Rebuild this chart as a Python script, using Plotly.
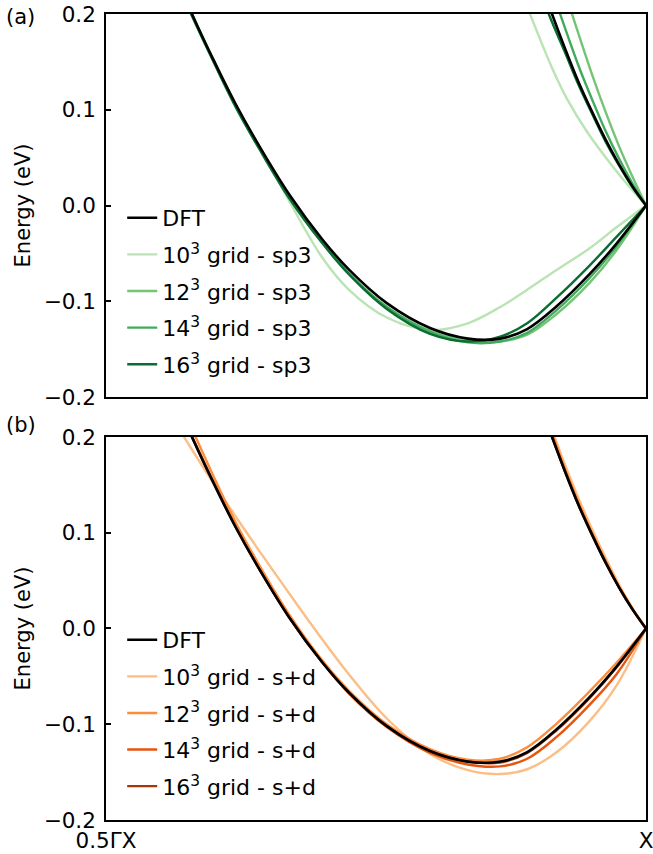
import plotly.graph_objects as go

# k-path coordinate: 0 = 0.5ΓX, 1 = X
K_LOW = [0.14, 0.16, 0.20, 0.24, 0.285, 0.34, 0.40, 0.45, 0.52, 0.60,
         0.67, 0.73, 0.78, 0.835, 0.895, 0.945, 1.0]
K_LOW_B10 = [0.13, 0.14, 0.16, 0.20, 0.24, 0.285, 0.34, 0.40, 0.45, 0.52,
             0.60, 0.67, 0.73, 0.78, 0.835, 0.895, 0.945, 1.0]

# DFT reference bands (eV)
DFT_LOW = [0.225, 0.199, 0.151, 0.106, 0.061, 0.011, -0.035, -0.067, -0.102,
           -0.128, -0.139, -0.139, -0.129, -0.105, -0.072, -0.040, 0.0]
K_UP_DFT = [0.81, 0.826, 0.85, 0.875, 0.90, 0.925, 0.95, 0.975, 1.0]
DFT_UP = [0.225, 0.200, 0.164, 0.129, 0.098, 0.069, 0.043, 0.020, 0.0]

# (a) sp3 Wannier interpolation on different k grids
SP3_10_LOW = [0.225, 0.199, 0.151, 0.106, 0.061, 0.004, -0.054, -0.088, -0.117,
              -0.130, -0.123, -0.106, -0.088, -0.067, -0.045, -0.023, 0.0]
SP3_10_KUP = [0.77, 0.785, 0.825, 0.855, 0.892, 0.938, 0.97, 1.0]
SP3_10_UP = [0.220, 0.200, 0.145, 0.110, 0.076, 0.041, 0.019, 0.0]

SP3_12_LOW = [0.225, 0.199, 0.150, 0.105, 0.060, 0.009, -0.038, -0.071, -0.106,
              -0.131, -0.141, -0.142, -0.135, -0.113, -0.081, -0.047, 0.0]
SP3_12_KUP = [0.85, 0.863, 0.90, 0.925, 0.95, 0.975, 1.0]
SP3_12_UP = [0.223, 0.200, 0.137, 0.098, 0.062, 0.030, 0.0]

SP3_14_LOW = [0.225, 0.198, 0.150, 0.104, 0.059, 0.008, -0.038, -0.071, -0.106,
              -0.132, -0.143, -0.142, -0.133, -0.109, -0.076, -0.043, 0.0]
SP3_14_KUP = [0.826, 0.841, 0.875, 0.90, 0.925, 0.95, 0.975, 1.0]
SP3_14_UP = [0.225, 0.200, 0.146, 0.111, 0.078, 0.049, 0.023, 0.0]

SP3_16_LOW = [0.223, 0.197, 0.149, 0.103, 0.058, 0.007, -0.039, -0.072, -0.108,
              -0.134, -0.142, -0.137, -0.123, -0.096, -0.063, -0.033, 0.0]
SP3_16_KUP = [0.805, 0.82, 0.85, 0.875, 0.90, 0.925, 0.95, 0.975, 1.0]
SP3_16_UP = [0.225, 0.200, 0.160, 0.126, 0.096, 0.067, 0.042, 0.019, 0.0]

# (b) s+d Wannier interpolation on different k grids
SD_10_LOW = [0.213, 0.204, 0.186, 0.151, 0.117, 0.080, 0.036, -0.011, -0.048,
             -0.094, -0.131, -0.148, -0.152, -0.147, -0.129, -0.097, -0.060, 0.0]
SD_10_UP = [0.229, 0.207, 0.171, 0.136, 0.104, 0.074, 0.046, 0.021, 0.0]

SD_12_LOW = [0.236, 0.208, 0.158, 0.111, 0.065, 0.014, -0.033, -0.065, -0.100,
             -0.126, -0.137, -0.136, -0.124, -0.099, -0.066, -0.036, 0.0]
SD_12_UP = [0.226, 0.204, 0.167, 0.132, 0.100, 0.071, 0.044, 0.021, 0.0]

SD_14_LOW = [0.226, 0.200, 0.152, 0.106, 0.061, 0.011, -0.035, -0.068, -0.103,
             -0.130, -0.142, -0.144, -0.136, -0.113, -0.080, -0.048, 0.0]
SD_14_UP = [0.224, 0.201, 0.165, 0.130, 0.099, 0.070, 0.043, 0.020, 0.0]

SD_16_LOW = [0.225, 0.199, 0.151, 0.106, 0.061, 0.011, -0.035, -0.067, -0.102,
             -0.128, -0.139, -0.140, -0.130, -0.106, -0.073, -0.041, 0.0]
SD_16_UP = [0.222, 0.200, 0.164, 0.129, 0.098, 0.069, 0.043, 0.020, 0.0]

GREENS = ["#bae4b3", "#74c476", "#41ab5d", "#0a6d31"]
ORANGES = ["#fdbe85", "#fd8d3c", "#e6550d", "#a63603"]

FONT = "DejaVu Sans"

fig = go.Figure()


def band(k_low, e_low, k_up, e_up, name, color, width, axes, legend, rank):
    xa, ya = axes
    fig.add_trace(go.Scatter(
        x=list(k_low) + [None] + list(k_up),
        y=list(e_low) + [None] + list(e_up),
        mode="lines", name=name,
        line=dict(color=color, width=width, shape="spline", smoothing=1.0),
        xaxis=xa, yaxis=ya, legend=legend, legendgroup=name + legend,
        legendrank=rank, connectgaps=False,
    ))


sp3 = [
    (K_LOW, SP3_10_LOW, SP3_10_KUP, SP3_10_UP, "10<sup>3</sup> grid - sp3"),
    (K_LOW, SP3_12_LOW, SP3_12_KUP, SP3_12_UP, "12<sup>3</sup> grid - sp3"),
    (K_LOW, SP3_14_LOW, SP3_14_KUP, SP3_14_UP, "14<sup>3</sup> grid - sp3"),
    (K_LOW, SP3_16_LOW, SP3_16_KUP, SP3_16_UP, "16<sup>3</sup> grid - sp3"),
]
for i, (kl, el, ku, eu, nm) in enumerate(sp3):
    band(kl, el, ku, eu, nm, GREENS[i], 2.4, ("x", "y"), "legend", 2 + i)
band(K_LOW, DFT_LOW, K_UP_DFT, DFT_UP, "DFT", "black", 2.6, ("x", "y"), "legend", 1)

sd = [
    (K_LOW_B10, SD_10_LOW, K_UP_DFT, SD_10_UP, "10<sup>3</sup> grid - s+d"),
    (K_LOW, SD_12_LOW, K_UP_DFT, SD_12_UP, "12<sup>3</sup> grid - s+d"),
    (K_LOW, SD_14_LOW, K_UP_DFT, SD_14_UP, "14<sup>3</sup> grid - s+d"),
    (K_LOW, SD_16_LOW, K_UP_DFT, SD_16_UP, "16<sup>3</sup> grid - s+d"),
]
for i, (kl, el, ku, eu, nm) in enumerate(sd):
    band(kl, el, ku, eu, nm, ORANGES[i], 2.4, ("x2", "y2"), "legend2", 2 + i)
band(K_LOW, DFT_LOW, K_UP_DFT, DFT_UP, "DFT", "black", 2.6, ("x2", "y2"), "legend2", 1)

Y_TICKS = [-0.2, -0.1, 0.0, 0.1, 0.2]
Y_TEXT = ["\u22120.2", "\u22120.1", "0.0", "0.1", "0.2"]
K_TICKS = [0.0, 1.0]
K_TEXT = ["0.5\u0393X", "X"]

TICK_FONT = dict(family=FONT, size=21.5, color="black")

axis_common = dict(showline=True, mirror=True, linecolor="black", linewidth=1.6,
                   showgrid=False, zeroline=False, automargin=False)
yaxis_common = dict(axis_common, range=[-0.2, 0.2], tickvals=Y_TICKS, ticktext=Y_TEXT,
                    ticks="inside", ticklen=5, tickwidth=1.5, tickcolor="black",
                    tickfont=TICK_FONT, ticklabelstandoff=4,
                    title=dict(text="Energy (eV)", standoff=7,
                               font=dict(family=FONT, size=21, color="black")))

legend_common = dict(font=dict(family=FONT, size=22, color="black"),
                     bgcolor="rgba(0,0,0,0)", borderwidth=0,
                     traceorder="grouped", tracegroupgap=5,
                     xanchor="left", yanchor="middle", itemwidth=30)

fig.update_layout(
    width=653, height=854,
    margin=dict(l=106, r=7, t=14, b=34, autoexpand=False),
    paper_bgcolor="white", plot_bgcolor="white",
    font=dict(family=FONT, color="black"),
    xaxis=dict(axis_common, domain=[0, 1], range=[0, 1], anchor="y",
               showticklabels=False, ticks=""),
    yaxis=dict(yaxis_common, domain=[0.5248, 1.0], anchor="x"),
    xaxis2=dict(axis_common, domain=[0, 1], range=[0, 1], anchor="y2",
                tickvals=K_TICKS, ticktext=K_TEXT, ticks="",
                tickfont=TICK_FONT, ticklabelstandoff=0,
                ticklabeloverflow="allow"),
    yaxis2=dict(yaxis_common, domain=[0.0, 0.4752], anchor="x2"),
    legend=dict(legend_common, x=0.03, y=0.6563),
    legend2=dict(legend_common, x=0.03, y=0.1328),
    annotations=[
        dict(text="(a)", x=-0.158, y=0.9965, xref="paper", yref="paper",
             xanchor="center", yanchor="middle", showarrow=False,
             font=dict(family=FONT, size=21, color="black")),
        dict(text="(b)", x=-0.158, y=0.4905, xref="paper", yref="paper",
             xanchor="center", yanchor="middle", showarrow=False,
             font=dict(family=FONT, size=21, color="black")),
    ],
)

fig.write_html("out.html")
